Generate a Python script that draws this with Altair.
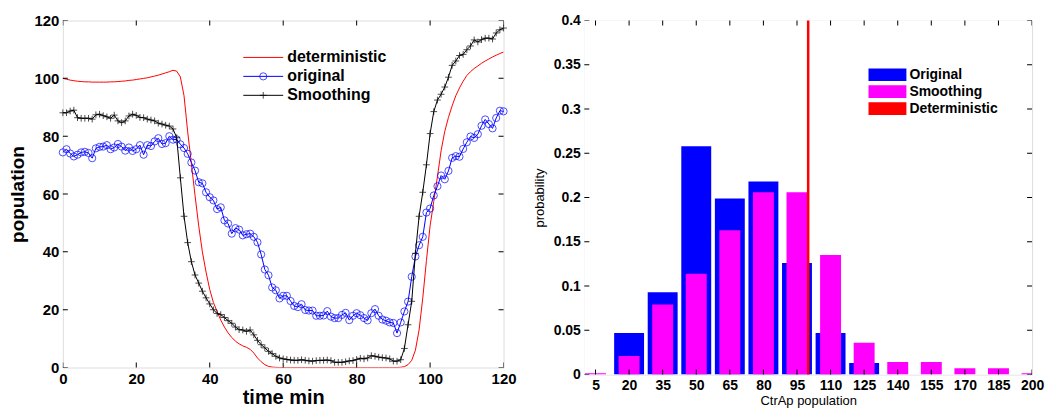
import altair as alt
import pandas as pd

# ---------------- data: left panel (population vs time) ----------------
time_min = list(range(0, 121))

deterministic = [
    100.0, 99.7, 99.4, 99.2, 99.0, 98.9, 98.8, 98.8, 98.7, 98.7, 98.7, 98.7, 98.7, 98.8, 98.8, 98.9,
    99.0, 99.1, 99.3, 99.4, 99.6, 99.8, 100.0, 100.2, 100.5, 100.8, 101.1, 101.5, 101.9, 102.3, 102.8,
    102.5, 100.5, 94.0, 81.5, 70.5, 59.5, 49.0, 40.0, 33.0, 27.0, 22.5, 19.4, 16.4, 14.0, 12.0, 10.4,
    9.1, 8.2, 7.5, 7.0, 6.3, 5.0, 3.3, 2.0, 1.0, 0.4, 0.15, 0.05,
    0.0, 0.0, 0.0, 0.0, 0.0, 0.0, 0.0, 0.0, 0.0, 0.0, 0.0, 0.0, 0.0, 0.0, 0.0, 0.0, 0.0,
    0.0, 0.0, 0.0, 0.0, 0.0, 0.0, 0.0, 0.0, 0.0, 0.0, 0.0, 0.0, 0.0, 0.0, 0.0, 0.0,
    0.1, 0.3, 1.0, 2.5, 6.0, 13.0, 24.0, 37.0, 49.0, 57.5, 66.0, 75.0, 81.7, 86.5, 90.5, 94.0,
    96.7, 99.0, 101.0, 102.3, 103.4, 104.3, 105.2, 106.0, 106.7, 107.4, 108.0, 108.6, 109.1,
]

original = [
    74.4, 75.5, 74.0, 73.0, 73.6, 74.4, 74.6, 74.2, 72.4, 75.8, 76.3, 76.4, 76.9, 75.5, 76.1, 77.3,
    76.4, 75.0, 76.1, 74.9, 75.5, 76.9, 73.6, 76.9, 76.6, 78.2, 79.3, 77.3, 77.6, 80.0, 78.8,
    78.9, 77.2, 75.9, 73.9, 70.9, 68.1, 64.1, 63.7, 60.6, 58.9, 57.8, 54.8, 55.4, 50.9, 49.8,
    46.3, 48.2, 47.7, 45.7, 46.1, 46.3, 45.2, 43.3, 39.1, 33.9, 31.9, 27.7, 26.7, 23.9, 24.8,
    24.8, 23.0, 21.3, 20.9, 21.9, 19.9, 19.7, 19.7, 17.9, 17.9, 18.0, 19.5, 17.6, 17.1, 17.1,
    18.2, 18.9, 16.4, 17.9, 18.8, 18.1, 17.1, 16.3, 18.8, 20.2, 17.9, 16.6, 16.2, 15.6, 15.4,
    11.9, 15.6, 19.4, 22.8, 31.4, 38.4, 42.3, 45.2, 53.6, 55.0, 59.5, 62.7, 66.4, 65.1, 68.0,
    72.5, 73.1, 72.9, 75.6, 77.9, 79.9, 79.4, 80.7, 83.6, 85.8, 84.2, 82.7, 86.3, 88.8, 88.6,
]

smoothing = [
    88.1, 88.1, 88.7, 89.0, 86.4, 86.2, 86.2, 86.2, 85.9, 87.4, 87.6, 87.1, 86.7, 86.2, 87.3, 85.3,
    84.7, 85.3, 87.0, 87.6, 87.2, 86.5, 86.4, 85.9, 85.6, 85.3, 84.5, 84.2, 83.8, 83.5, 82.5,
    79.5, 65.6, 52.3, 43.2, 36.6, 32.0, 29.2, 26.4, 24.1, 22.0, 20.0, 18.7, 18.3, 17.3, 16.2,
    15.3, 14.0, 13.1, 13.0, 12.5, 13.0, 11.3, 9.4, 7.9, 6.8, 5.6, 4.8, 3.9, 3.3, 3.0,
    2.8, 2.6, 2.5, 2.5, 2.7, 2.5, 2.3, 2.2, 2.4, 2.5, 2.5, 2.6, 2.4, 1.8, 1.8,
    1.8, 2.0, 2.3, 2.4, 2.8, 3.2, 3.0, 3.3, 4.1, 3.9, 3.6, 3.4, 3.3, 3.0, 2.2,
    2.2, 2.7, 6.6, 14.8, 22.9, 39.5, 52.3, 60.6, 70.1, 80.9, 88.5, 92.5, 94.5, 97.0, 100.4,
    104.5, 106.0, 107.9, 108.3, 109.9, 111.2, 113.3, 112.6, 113.4, 113.9, 113.9, 113.6, 115.7, 116.8, 117.4,
]

left_ticks = [0, 20, 40, 60, 80, 100, 120]
left_legend_labels = ["deterministic", "original", "Smoothing"]

# ---------------- data: right panel (histogram) ----------------
bin_centers = [5, 20, 35, 50, 65, 80, 95, 110, 125, 140, 155, 170, 185, 200]
prob_original = [0.0, 0.047, 0.093, 0.258, 0.199, 0.218, 0.126, 0.047, 0.013, 0.0, 0.0, 0.0, 0.0, 0.0]
prob_smoothing = [0.0015, 0.021, 0.079, 0.114, 0.163, 0.206, 0.206, 0.135, 0.036, 0.014, 0.014, 0.007, 0.007, 0.0015]
deterministic_level = [100]
right_y_ticks = [0, 0.05, 0.1, 0.15, 0.2, 0.25, 0.3, 0.35, 0.4]
right_legend_labels = ["Original", "Smoothing", "Deterministic"]

BLUE = "#0000ff"
RED = "#ff0000"
MAGENTA = "#ff00ff"
BLACK = "#000000"
WHITE = "#ffffff"
FONT = "Liberation Sans"
PLUS = "M-1,0L1,0M0,-1L0,1"
TICK_LEN = 10  # centred on the frame, outer half clipped -> 5 px inward ticks

NOGRID = dict(grid=False, gridColor=WHITE, gridOpacity=0, ticks=False, domain=False,
              labelFlush=False, labelOverlap=False)

# ---------------- left panel ----------------
W1, H1 = 442, 348
xs1 = alt.Scale(domain=[0, 120], nice=False, zero=False, padding=0)
ys1 = alt.Scale(domain=[0, 120], nice=False, zero=False, padding=0)
x1_axis = alt.Axis(values=left_ticks, title="time min", format="d", labelFontSize=15,
                   labelFontWeight="bold", titleFontSize=20, titleFontWeight="bold",
                   labelPadding=4, titlePadding=1, **NOGRID)
y1_axis = alt.Axis(values=left_ticks, title="population", format="d", labelFontSize=15,
                   labelFontWeight="bold", titleFontSize=19, titleFontWeight="bold",
                   labelPadding=4, titlePadding=6, **NOGRID)


def X1(f):
    return alt.X(f, type="quantitative", scale=xs1, axis=x1_axis)


def Y1(f):
    return alt.Y(f, type="quantitative", scale=ys1, axis=y1_axis)


df_det = pd.DataFrame({"t": time_min, "v": deterministic})
df_orig = pd.DataFrame({"t": time_min, "v": original})
df_smooth = pd.DataFrame({"t": time_min, "v": smoothing})
df_xt1 = pd.DataFrame({"t": left_ticks})
df_yt1 = pd.DataFrame({"v": left_ticks})
one = pd.DataFrame({"k": [0]})

red_line = alt.Chart(df_det).mark_line(color=RED, strokeWidth=1, clip=True).encode(x=X1("t"), y=Y1("v"))
blue_line = alt.Chart(df_orig).mark_line(color=BLUE, strokeWidth=1).encode(x=X1("t"), y=Y1("v"))
blue_pts = alt.Chart(df_orig).mark_point(shape="circle", size=52, filled=False, color=BLUE,
                                         strokeWidth=1).encode(x=X1("t"), y=Y1("v"))
black_line = alt.Chart(df_smooth).mark_line(color=BLACK, strokeWidth=1).encode(x=X1("t"), y=Y1("v"))
black_pts = alt.Chart(df_smooth).mark_point(shape=PLUS, size=45, filled=False, color=BLACK,
                                            strokeWidth=1).encode(x=X1("t"), y=Y1("v"))


def vticks(df, xenc, ypix):
    return alt.Chart(df).mark_tick(orient="vertical", size=TICK_LEN, thickness=1, color=BLACK,
                                   opacity=1, clip=True).encode(x=xenc, y=alt.value(ypix))


def hticks(df, yenc, xpix):
    return alt.Chart(df).mark_tick(orient="horizontal", size=TICK_LEN, thickness=1, color=BLACK,
                                   opacity=1, clip=True).encode(y=yenc, x=alt.value(xpix))


def backdrop(w, h):
    return alt.Chart(one).mark_rect(color=WHITE, opacity=1).encode(
        x=alt.value(0), x2=alt.value(w), y=alt.value(0), y2=alt.value(h))


ticks1 = [vticks(df_xt1, X1("t"), H1), vticks(df_xt1, X1("t"), 0),
          hticks(df_yt1, Y1("v"), 0), hticks(df_yt1, Y1("v"), W1)]

leg1 = []
leg_colors = [RED, BLUE, BLACK]
leg_rows = [37, 56, 75]
for i, (lab, col) in enumerate(zip(left_legend_labels, leg_colors)):
    yy = leg_rows[i]
    leg1.append(alt.Chart(one).mark_rule(color=col, strokeWidth=1).encode(
        x=alt.value(181), x2=alt.value(221), y=alt.value(yy)))
    if i == 1:
        leg1.append(alt.Chart(one).mark_point(shape="circle", size=52, filled=False, color=col,
                                              strokeWidth=1).encode(x=alt.value(201), y=alt.value(yy)))
    if i == 2:
        leg1.append(alt.Chart(one).mark_point(shape=PLUS, size=45, filled=False, color=col,
                                              strokeWidth=1).encode(x=alt.value(201), y=alt.value(yy)))
    leg1.append(alt.Chart(one).mark_text(align="left", baseline="middle", font=FONT, fontSize=16,
                                         fontWeight="bold", color=BLACK).encode(
        x=alt.value(225), y=alt.value(yy), text=alt.value(lab)))

left = alt.layer(red_line, blue_line, blue_pts, black_line, black_pts,
                 *ticks1, *leg1).properties(width=W1, height=H1)

# ---------------- right panel ----------------
W2, H2 = 449, 355
xs2 = alt.Scale(domain=[0, 200], nice=False, zero=False, padding=0)
ys2 = alt.Scale(domain=[0, 0.4], nice=False, padding=0)
x2_axis = alt.Axis(values=bin_centers, title="CtrAp population", format="d", labelFontSize=14,
                   labelFontWeight="bold", titleFontSize=13, titleFontWeight="normal",
                   labelPadding=4, titlePadding=2, **NOGRID)
y2_axis = alt.Axis(values=right_y_ticks, title="probability", format="~g", labelFontSize=14,
                   labelFontWeight="bold", titleFontSize=13, titleFontWeight="normal",
                   labelPadding=4, titlePadding=7, **NOGRID)


def X2(f):
    return alt.X(f, type="quantitative", scale=xs2, axis=x2_axis)


def Y2(f):
    return alt.Y(f, type="quantitative", scale=ys2, axis=y2_axis)


df_po = pd.DataFrame({"c": bin_centers, "p": prob_original})
df_ps = pd.DataFrame({"c": bin_centers, "p": prob_smoothing})
df_det2 = pd.DataFrame({"c": deterministic_level})
df_xt2 = pd.DataFrame({"c": bin_centers})
df_yt2 = pd.DataFrame({"p": right_y_ticks})

bars_o = alt.Chart(df_po).mark_bar(color=BLUE, size=30, clip=True).encode(x=X2("c"), y=Y2("p"))
bars_s = alt.Chart(df_ps).mark_bar(color=MAGENTA, size=21, clip=True).encode(x=X2("c"), y=Y2("p"))
det_rule = alt.Chart(df_det2).mark_rule(color=RED, strokeWidth=2.5).encode(x=X2("c"))

ticks2 = [vticks(df_xt2, X2("c"), H2), vticks(df_xt2, X2("c"), 0),
          hticks(df_yt2, Y2("p"), 0), hticks(df_yt2, Y2("p"), W2)]

leg2 = []
box_colors = [BLUE, MAGENTA, RED]
box_tops = [48, 65, 82]
for lab, col, top in zip(right_legend_labels, box_colors, box_tops):
    leg2.append(alt.Chart(one).mark_rect(color=col).encode(
        x=alt.value(285), x2=alt.value(323), y=alt.value(top), y2=alt.value(top + 12.7)))
    leg2.append(alt.Chart(one).mark_text(align="left", baseline="middle", font=FONT, fontSize=14,
                                         fontWeight="bold", color=BLACK).encode(
        x=alt.value(326), y=alt.value(top + 6.5), text=alt.value(lab)))

right = alt.layer(backdrop(W2, H2), bars_o, bars_s, det_rule, *ticks2,
                  *leg2).properties(width=W2, height=H2)

chart = alt.hconcat(left, right, spacing=15).properties(
    padding={"left": 8, "top": 12, "right": 0, "bottom": 0}
).configure_view(stroke=BLACK, strokeWidth=1).configure_axis(
    grid=False, gridColor=WHITE, gridOpacity=0, ticks=False, domain=False,
    labelFont=FONT, titleFont=FONT, labelColor=BLACK, titleColor=BLACK
).configure_scale(continuousPadding=0).configure(background="white")

chart.save("out.html", embed_options={"renderer": "svg", "actions": False})
